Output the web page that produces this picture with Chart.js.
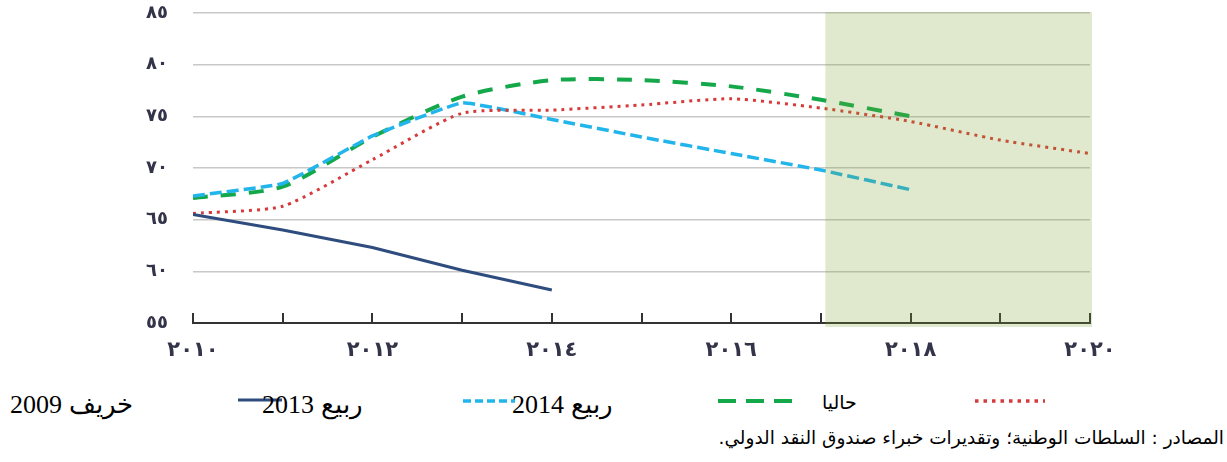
<!DOCTYPE html>
<html lang="ar">
<head>
<meta charset="utf-8">
<script src="https://cdn.jsdelivr.net/npm/chart.js@4.4.0/dist/chart.umd.min.js"></script>
<style>
  body { margin: 0; width: 1227px; height: 462px; background: #fff; position: relative; overflow: hidden; }
  #wrap { position: absolute; left: 0; top: 0; width: 1227px; height: 370px; }
  .lg { position: absolute; font-family: "Liberation Serif", "DejaVu Serif", serif; font-size: 26px; line-height: 1; color: #000; white-space: nowrap; direction: rtl; }
  .lg-sans { position: absolute; font-family: "DejaVu Sans", sans-serif; font-size: 19px; line-height: 1; color: #000; white-space: nowrap; direction: rtl; }
  svg.key { position: absolute; overflow: visible; }
  #source { position: absolute; right: 3px; top: 429px; font-family: "DejaVu Sans", sans-serif; font-size: 18.5px; line-height: 1; direction: rtl; white-space: nowrap; color: #000; }
</style>
</head>
<body>
<div id="wrap"><canvas id="chart" width="1227" height="370"></canvas></div>

<svg class="key" style="left:238px;top:396px" width="44" height="8"><line x1="0" y1="4" x2="44" y2="4" stroke="#2f4c7e" stroke-width="3"/></svg>
<svg class="key" style="left:463px;top:397px" width="52" height="8"><line x1="0" y1="4" x2="52" y2="4" stroke="#22b5ec" stroke-width="3.5" stroke-dasharray="8 4"/></svg>
<svg class="key" style="left:718px;top:397px" width="76" height="8"><line x1="0" y1="4" x2="76" y2="4" stroke="#14a84b" stroke-width="4" stroke-dasharray="18 10"/></svg>
<svg class="key" style="left:975px;top:397px" width="70" height="8"><line x1="0" y1="4" x2="70" y2="4" stroke="#d63a3a" stroke-width="3.5" stroke-dasharray="3.5 5"/></svg>

<div class="lg" style="left:10px;top:392px">خريف 2009</div>
<div class="lg" style="left:262px;top:392px">ربيع 2013</div>
<div class="lg" style="left:512px;top:392px">ربيع 2014</div>
<div class="lg-sans" style="left:822px;top:393px">حاليا</div>
<div id="source">المصادر : السلطات الوطنية؛ وتقديرات خبراء صندوق النقد الدولي.</div>

<script>
var years = [2010, 2011, 2012, 2013, 2014, 2015, 2016, 2017, 2018, 2019, 2020];
var autumn2009 = [65.6, 66.3, 70.8, 75.3, 75.6, 76.1, 76.7, 75.8, 74.5, 72.7, 71.4];
var spring2013 = [65.5, 64.0, 62.3, 60.1, 58.2, null, null, null, null, null, null];
var spring2014 = [67.3, 68.5, 73.1, 76.3, 74.7, 73.0, 71.4, 69.8, 67.9, null, null];
var current = [67.1, 68.2, 73.0, 76.9, 78.5, 78.5, 77.9, 76.6, 75.0, null, null];

var seriesNames = ['خريف 2009', 'ربيع 2013', 'ربيع 2014', 'حاليا'];
var xLabelYears = [2010, 2012, 2014, 2016, 2018, 2020];
var xLabelTexts = ['٢٠١٠', '٢٠١٢', '٢٠١٤', '٢٠١٦', '٢٠١٨', '٢٠٢٠'];
var yTickValues = [55, 60, 65, 70, 75, 80, 85];
var yTickTexts = ['٥٥', '٦٠', '٦٥', '٧٠', '٧٥', '٨٠', '٨٥'];
var forecastFrom = 2017.05;
var forecastTo = 2020;

function points(arr) {
  var out = [];
  for (var i = 0; i < years.length; i++) {
    if (arr[i] !== null) out.push({ x: years[i], y: arr[i] });
  }
  return out;
}

// year ticks pointing up from the axis, then the forecast shading laid over everything
var overlay = {
  id: 'overlay',
  afterDraw: function (chart) {
    var ctx = chart.ctx, xs = chart.scales.x, ys = chart.scales.y;
    ctx.save();
    ctx.strokeStyle = '#333';
    ctx.lineWidth = 2;
    for (var i = 0; i < years.length; i++) {
      var px = Math.round(xs.getPixelForValue(years[i]));
      ctx.beginPath();
      ctx.moveTo(px, ys.bottom);
      ctx.lineTo(px, ys.bottom - 10);
      ctx.stroke();
    }
    var l = xs.getPixelForValue(forecastFrom), r = xs.getPixelForValue(forecastTo);
    ctx.fillStyle = 'rgba(125,165,45,0.24)';
    ctx.fillRect(l, ys.top - 1, r - l + 2, ys.bottom - ys.top + 5);
    ctx.restore();
  }
};

new Chart(document.getElementById('chart'), {
  type: 'line',
  data: {
    datasets: [
      { label: seriesNames[1], data: points(spring2013), borderColor: '#2f4c7e', borderWidth: 3, tension: 0 },
      { label: seriesNames[0], data: points(autumn2009), borderColor: '#d63a3a', borderWidth: 3, borderDash: [3, 5], tension: 0.2 },
      { label: seriesNames[2], data: points(spring2014), borderColor: '#22b5ec', borderWidth: 3.5, borderDash: [12, 5], tension: 0.1 },
      { label: seriesNames[3], data: points(current), borderColor: '#14a84b', borderWidth: 4, borderDash: [15, 13], tension: 0.25 }
    ]
  },
  options: {
    responsive: false,
    devicePixelRatio: 1,
    animation: false,
    elements: { point: { radius: 0 } },
    layout: { padding: { top: 13, right: 137, left: 0, bottom: 0 } },
    plugins: { legend: { display: false }, tooltip: { enabled: false } },
    scales: {
      x: {
        type: 'linear',
        min: 2010,
        max: 2020,
        afterFit: function (s) { s.height = 47; },
        grid: { display: true, drawOnChartArea: false, drawTicks: false },
        border: { display: true, color: '#333', width: 2 },
        ticks: {
          stepSize: 1,
          autoSkip: false,
          maxRotation: 0,
          padding: 15,
          color: '#33334a',
          font: { family: 'DejaVu Sans', size: 21, weight: 'bold' },
          callback: function (v) {
            var i = xLabelYears.indexOf(v);
            return i < 0 ? '' : xLabelTexts[i];
          }
        }
      },
      y: {
        min: 55,
        max: 85,
        afterFit: function (s) { s.width = 193; s.paddingTop = 0; s.paddingBottom = 0; },
        grid: { color: '#c8c8c8', lineWidth: 1.5, drawTicks: false },
        border: { display: false },
        ticks: {
          stepSize: 5,
          padding: 25,
          color: '#33334a',
          font: { family: 'DejaVu Sans', size: 18, weight: 'bold' },
          callback: function (v) {
            var i = yTickValues.indexOf(v);
            return i < 0 ? '' : yTickTexts[i];
          }
        }
      }
    }
  },
  plugins: [overlay]
});
</script>
</body>
</html>
